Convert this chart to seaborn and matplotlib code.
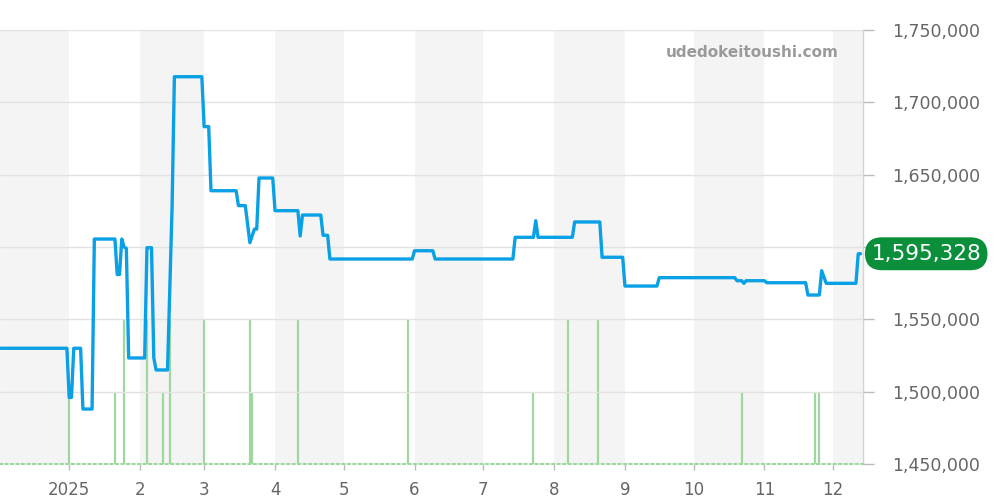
import matplotlib
matplotlib.use("Agg")
import matplotlib.pyplot as plt
import matplotlib.transforms as mtransforms
import pandas as pd
import seaborn as sns

# price line (breakpoints, joined linearly)
price_dates = [
    "2024-12-02", "2024-12-31", "2025-01-01", "2025-01-02", "2025-01-03",
    "2025-01-06", "2025-01-07", "2025-01-11", "2025-01-12", "2025-01-21",
    "2025-01-22", "2025-01-23", "2025-01-24", "2025-01-25", "2025-01-26",
    "2025-01-27", "2025-02-03", "2025-02-04", "2025-02-06", "2025-02-07",
    "2025-02-08", "2025-02-13", "2025-02-15", "2025-02-16", "2025-02-28",
    "2025-03-01", "2025-03-03", "2025-03-04", "2025-03-15", "2025-03-16",
    "2025-03-19", "2025-03-21", "2025-03-23", "2025-03-24", "2025-03-25",
    "2025-03-31", "2025-04-01", "2025-04-11", "2025-04-12", "2025-04-13",
    "2025-04-21", "2025-04-22", "2025-04-24", "2025-04-25", "2025-05-31",
    "2025-06-01", "2025-06-09", "2025-06-10", "2025-07-14", "2025-07-15",
    "2025-07-23", "2025-07-24", "2025-07-25", "2025-08-09", "2025-08-10",
    "2025-08-21", "2025-08-22", "2025-08-31", "2025-09-01", "2025-09-15",
    "2025-09-16", "2025-10-19", "2025-10-20", "2025-10-22", "2025-10-23",
    "2025-10-24", "2025-11-01", "2025-11-02", "2025-11-19", "2025-11-20",
    "2025-11-25", "2025-11-26", "2025-11-28", "2025-12-11", "2025-12-12",
    "2025-12-13",
]
price_values = [
    1530000, 1530000, 1496000, 1496000, 1530000,
    1530000, 1488000, 1488000, 1605500, 1605500,
    1581000, 1581000, 1605500, 1600000, 1599000,
    1523300, 1523300, 1599500, 1599500, 1523300,
    1515000, 1515000, 1628300, 1717700, 1717700,
    1683200, 1683200, 1638900, 1638900, 1628600,
    1628600, 1603000, 1612400, 1612400, 1647700,
    1647700, 1625100, 1625100, 1607600, 1622100,
    1622100, 1608100, 1608100, 1591700, 1591700,
    1597400, 1597400, 1591700, 1591700, 1606700,
    1606700, 1618200, 1606700, 1606700, 1617300,
    1617300, 1592900, 1592900, 1573000, 1573000,
    1578800, 1578800, 1576700, 1576700, 1574900,
    1576700, 1576700, 1575300, 1575300, 1566800,
    1566800, 1583600, 1574900, 1574900, 1595328,
    1595328,
]

# green volume bars
bar_dates = [
    "2025-01-01", "2025-01-21", "2025-01-25", "2025-02-04", "2025-02-11",
    "2025-02-14", "2025-03-01", "2025-03-21", "2025-03-22", "2025-04-11",
    "2025-05-29", "2025-07-23", "2025-08-07", "2025-08-20", "2025-10-22",
    "2025-11-23", "2025-11-25",
]
bar_counts = [1, 1, 2, 2, 1, 2, 2, 2, 1, 2, 2, 1, 2, 2, 1, 1, 1]

month_starts = ["2025-01-01", "2025-02-01", "2025-03-01", "2025-04-01", "2025-05-01",
                "2025-06-01", "2025-07-01", "2025-08-01", "2025-09-01", "2025-10-01",
                "2025-11-01", "2025-12-01"]
month_labels = ["2025", "2", "3", "4", "5", "6", "7", "8", "9", "10", "11", "12"]
shaded_months = [("2024-12-01", "2025-01-01"), ("2025-02-01", "2025-03-01"),
                 ("2025-04-01", "2025-05-01"), ("2025-06-01", "2025-07-01"),
                 ("2025-08-01", "2025-09-01"), ("2025-10-01", "2025-11-01"),
                 ("2025-12-01", "2026-01-01")]
y_ticks = [1450000, 1500000, 1550000, 1600000, 1650000, 1700000, 1750000]

LINE = "#0aa0e6"
GREEN = "#0b8f3b"
BAR = "#9ed89f"
TXT = "#666666"

df = pd.DataFrame({"date": pd.to_datetime(price_dates), "price": price_values})
bars = pd.DataFrame({"date": pd.to_datetime(bar_dates), "count": bar_counts})
last = df["price"].iloc[-1]

sns.set_theme(style="white")
plt.rcParams["font.family"] = ["DejaVu Sans"]

fig = plt.figure(figsize=(10, 5), dpi=100)
ax = fig.add_axes([0.0, 0.072, 0.863, 0.868])
ax2 = ax.twinx()
ax.set_zorder(ax2.get_zorder() + 1)
ax.patch.set_visible(False)

# background bands + volume bars on the lower axes
for a, b in shaded_months:
    ax2.axvspan(pd.Timestamp(a), pd.Timestamp(b), color="#f4f4f4", lw=0, zorder=0)
ax2.vlines(bars["date"], 0, bars["count"], color=BAR, lw=1.6, zorder=2)
ax2.set_ylim(0, 6)
ax2.set_yticks([])
for s in ax2.spines.values():
    s.set_visible(False)

# price line
sns.lineplot(data=df, x="date", y="price", ax=ax, color=LINE, lw=2.4, zorder=3)
ax.set_xlim(pd.Timestamp("2024-12-01 18:00"), pd.Timestamp("2025-12-14 02:00"))
ax.set_ylim(1450000, 1750000)
ax.set_xlabel("")
ax.set_ylabel("")

ax.yaxis.tick_right()
ax.set_yticks(y_ticks)
# the 1,600,000 label sits under the last-price badge in the original
ax.set_yticklabels(["" if abs(v - last) < 20000 else f"{v:,}" for v in y_ticks])
ax.tick_params(axis="y", right=True, length=8, width=1, color="#bbbbbb",
               labelsize=12.5, labelcolor=TXT, pad=13)
ax.grid(axis="y", color="#e2e2e2", lw=1)
ax.grid(axis="x", visible=False)

ax.set_xticks(pd.to_datetime(month_starts))
ax.set_xticklabels(month_labels)
ax.tick_params(axis="x", bottom=True, length=4, width=1, color="#bbbbbb",
               labelsize=12, labelcolor=TXT, pad=8)

for side in ["top", "left"]:
    ax.spines[side].set_visible(False)
ax.spines["right"].set_color("#d4d4d4")
ax.spines["right"].set_linewidth(1)
ax.spines["bottom"].set_color(BAR)
ax.spines["bottom"].set_linestyle(":")
ax.spines["bottom"].set_linewidth(1.5)

# watermark
ax.text(0.972, 0.948, "udedokeitoushi.com", transform=ax.transAxes, ha="right",
        va="center", fontsize=11, fontweight="bold", color="#9a9a9a")

# last price badge
trans = mtransforms.blended_transform_factory(ax.transAxes, ax.transData)
ax.annotate(f"{last:,}", xy=(1.0, last), xycoords=trans, xytext=(6, 0),
            textcoords="offset points", ha="left", va="center", fontsize=15.5,
            color="white", annotation_clip=False,
            bbox=dict(boxstyle="round,pad=0.3,rounding_size=0.8", fc=GREEN, ec="none"))

fig.savefig("out.png", dpi=100)
